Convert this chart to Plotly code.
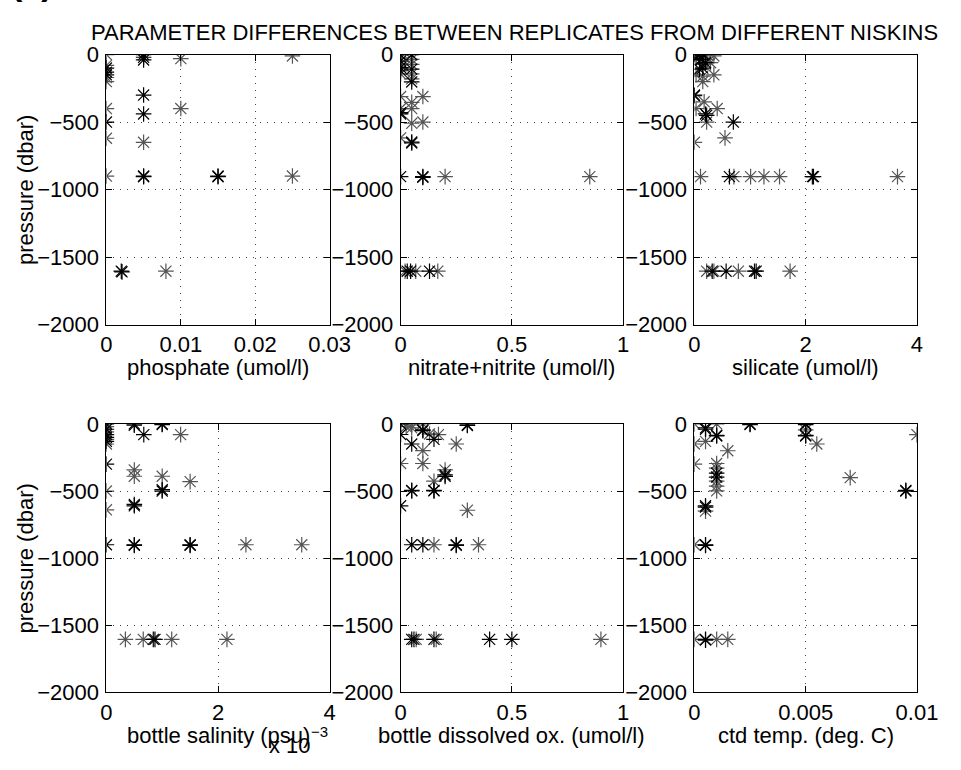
import plotly.graph_objects as go

# ---------------- data (pressure in dbar, differences in units shown) ----------------
# phosphate (umol/l)
phos_dark_x = [0, 0, 0, 0, 0.005, 0.005, 0.005, 0.005, 0.005, 0.005, 0.005, 0.015, 0.015, 0.002, 0.0021]
phos_dark_p = [-100, -130, -150, -500, 0, -20, -40, -300, -440, -900, -905, -900, -905, -1605, -1610]
phos_light_x = [0, 0, 0, 0, 0, 0, 0, 0.01, 0.01, 0.005, 0.025, 0.025, 0.008]
phos_light_p = [0, -80, -170, -200, -400, -620, -900, -30, -400, -650, -10, -900, -1605]

# nitrate+nitrite (umol/l)
nit_dark_x = [0, 0, 0, 0, 0.05, 0.05, 0.05, 0, 0, 0.05, 0.05, 0, 0.1, 0.1, 0.03, 0.045, 0.13]
nit_dark_p = [-1, -48, -96, -120, -1, -108, -203, -430, -440, -648, -655, -904, -904, -910, -1605, -1605, -1605]
nit_light_x = [0, 0, 0, 0.05, 0.05, 0.05, 0.05, 0, 0, 0, 0.05, 0.05, 0.05, 0.1, 0.1, 0.2, 0.85, 0.068, 0.167, 0.02]
nit_light_p = [-25, -72, -143, -36, -72, -143, -180, -311, -400, -617, -354, -400, -509, -311, -500, -904, -904, -1605, -1605, -1605]

# silicate (umol/l)
sil_dark_x = [0, 0.09, 0.17, 0.03, 0.12, 0.2, 0.15, 0.09, 0, 0, 0.2, 0.22, 0.7, 2.12, 2.14, 0.63, 0.32, 1.08, 1.11, 0.57]
sil_dark_p = [0, 0, 0, -30, -36, -60, -100, -108, -300, -305, -440, -450, -500, -904, -904, -904, -1605, -1605, -1605, -1605]
sil_light_x = [0.35, 0.23, 0.15, 0.29, 0.03, 0.15, 0.35, 0.15, 0.03, 0.175, 0.41, 0.22, 0.55, 0, 0.11, 0.71, 1.01, 1.25, 1.53, 3.65, 0.22, 0.35, 0.79, 1.72]
sil_light_p = [-10, -36, -72, -60, -150, -160, -150, -200, -400, -350, -400, -500, -617, -650, -904, -904, -904, -904, -904, -904, -1605, -1605, -1605, -1605]

# bottle salinity (psu)
sal_dark_x = [0, 0, 0, 0, 0, 0, 0.0005, 0.0005, 0.001, 0.001, 0.00067, 0.001, 0.001, 0.0005, 0.0005, 0, 0.0005, 0.0005, 0.0015, 0.0015, 0.00084, 0.00087]
sal_dark_p = [0, -40, -80, -100, -130, -300, 0, -10, 0, -5, -80, -500, -490, -610, -600, -900, -900, -905, -900, -905, -1605, -1605]
sal_light_x = [0, 0, 0, 0, 0, 0, 0.00133, 0.0005, 0.0005, 0.001, 0.0015, 0.0025, 0.0035, 0.00034, 0.00066, 0.00117, 0.00216]
sal_light_p = [-20, -60, -115, -150, -500, -640, -80, -343, -390, -390, -430, -900, -900, -1605, -1605, -1605, -1605]

# bottle dissolved oxygen (umol/l)
oxy_dark_x = [0, 0, 0.1, 0.1, 0.3, 0.3, 0.05, 0.15, 0.2, 0.2, 0.05, 0.05, 0.15, 0.15, 0, 0.05, 0.1, 0.25, 0.25, 0.05, 0.06, 0.15, 0.4, 0.5]
oxy_dark_p = [0, -79, -45, -50, -7, -12, -150, -115, -391, -380, -499, -495, -499, -495, -610, -900, -900, -900, -905, -1605, -1605, -1605, -1605, -1605]
oxy_light_x = [0.025, 0.05, 0.05, 0.1, 0.13, 0.17, 0.1, 0.25, 0, 0.1, 0.2, 0.15, 0.3, 0.15, 0.35, 0.16, 0.9, 0.07]
oxy_light_p = [-20, -7, -30, 0, -75, -80, -199, -150, -295, -295, -343, -427, -643, -900, -900, -1605, -1605, -1605]

# ctd temperature (deg. C)
tmp_dark_x = [0.0005, 0.0005, 0.001, 0.001, 0.0025, 0.0025, 0.005, 0.005, 0.005, 0.005, 0.0095, 0.0095, 0.0005, 0.0005, 0.0005, 0.0005, 0.0005, 0.0005, 0.001, 0.001]
tmp_dark_p = [-30, -40, -90, -85, 0, -5, 0, -5, -85, -90, -500, -495, -610, -620, -900, -905, -1605, -1610, -396, -367]
tmp_light_x = [0, 0, 0, 0.0005, 0.001, 0.0015, 0.005, 0.0055, 0.01, 0.007, 0.001, 0.001, 0.001, 0.001, 0.001, 0.0005, 0, 0, 0.001, 0.0015]
tmp_light_p = [0, -150, -300, -130, 0, -200, -45, -150, -80, -400, -295, -330, -427, -463, -499, -650, -900, -1605, -1605, -1605]

x_titles = ["phosphate (umol/l)", "nitrate+nitrite (umol/l)", "silicate (umol/l)",
            "bottle salinity (psu)", "bottle dissolved ox. (umol/l)", "ctd temp. (deg. C)"]
x_ranges = [[0, 0.03], [0, 1], [0, 4], [0, 0.004], [0, 1], [0, 0.01]]
x_tickvals = [[0, 0.01, 0.02, 0.03], [0, 0.5, 1], [0, 2, 4], [0, 0.002, 0.004], [0, 0.5, 1], [0, 0.005, 0.01]]
x_ticktext = [["0", "0.01", "0.02", "0.03"], ["0", "0.5", "1"], ["0", "2", "4"], ["0", "2", "4"],
              ["0", "0.5", "1"], ["0", "0.005", "0.01"]]
y_tickvals = [0, -500, -1000, -1500, -2000]
y_ticktext = ["0", "\u2212500", "\u22121000", "\u22121500", "\u22122000"]

panels = [(phos_dark_x, phos_dark_p, phos_light_x, phos_light_p),
          (nit_dark_x, nit_dark_p, nit_light_x, nit_light_p),
          (sil_dark_x, sil_dark_p, sil_light_x, sil_light_p),
          (sal_dark_x, sal_dark_p, sal_light_x, sal_light_p),
          (oxy_dark_x, oxy_dark_p, oxy_light_x, oxy_light_p),
          (tmp_dark_x, tmp_dark_p, tmp_light_x, tmp_light_p)]

# ---------------- layout geometry (pixels, page coordinates) ----------------
W, H = 961, 770
col_px = [(103.3, 333.0), (406.0, 635.0), (708.3, 937.3)]
row_px = [(44.0, 323.0), (425.7, 703.3)]
FONT = "Liberation Sans, Arial, Helvetica, sans-serif"


def px(x):
    return x / W


def py(y):
    return 1 - y / H


fig = go.Figure()
layout = dict(width=W, height=H, margin=dict(l=0, r=0, t=0, b=0),
              paper_bgcolor="white", plot_bgcolor="white", showlegend=False,
              font=dict(family=FONT, size=22, color="black"))
annotations = []

for i, (dx, dp, lx, lp) in enumerate(panels):
    r, c = divmod(i, 3)
    n = i + 1
    xa = "x" if n == 1 else f"x{n}"
    ya = "y" if n == 1 else f"y{n}"
    for xs, ps, col in ((lx, lp, "#555555"), (dx, dp, "#000000")):
        fig.add_trace(go.Scatter(x=xs, y=ps, mode="markers", xaxis=xa, yaxis=ya,
                                 marker=dict(symbol="asterisk-open", size=13,
                                             line=dict(color=col, width=1.2), color=col),
                                 hoverinfo="skip"))
    x0, x1 = col_px[c]
    y0, y1 = row_px[r]
    common = dict(showline=True, linecolor="black", linewidth=1, mirror="allticks",
                  ticks="inside", ticklen=6, tickcolor="black", tickwidth=1,
                  showgrid=True, gridcolor="#444444", griddash="1px,6px", gridwidth=1,
                  zeroline=False, tickfont=dict(family=FONT, size=22, color="black"))
    layout["xaxis" if n == 1 else f"xaxis{n}"] = dict(
        domain=[px(x0), px(x1)], range=x_ranges[i], tickvals=x_tickvals[i],
        ticktext=x_ticktext[i], anchor=ya, ticklabelstandoff=0, **common)
    layout["yaxis" if n == 1 else f"yaxis{n}"] = dict(
        domain=[py(y1), py(y0)], range=[-2000, 0], tickvals=y_tickvals,
        ticktext=y_ticktext, anchor=xa, ticklabelstandoff=2, **common)
    # x-axis title
    annotations.append(dict(text=x_titles[i], xref="paper", yref="paper",
                            x=px((x0 + x1) / 2), y=py(y1 + 44),
                            xanchor="center", yanchor="middle", showarrow=False,
                            font=dict(family=FONT, size=22, color="black")))
    if c == 0:
        annotations.append(dict(text="pressure (dbar)", xref="paper", yref="paper",
                                x=px(20), y=py((y0 + y1) / 2), textangle=-90,
                                xanchor="center", yanchor="middle", showarrow=False,
                                font=dict(family=FONT, size=22, color="black")))

# title
annotations.append(dict(text="PARAMETER DIFFERENCES BETWEEN REPLICATES FROM DIFFERENT NISKINS",
                        xref="paper", yref="paper", x=px(523.5), y=py(21),
                        xanchor="center", yanchor="middle", showarrow=False,
                        font=dict(family=FONT, size=22, color="black")))
# panel tag (mostly cut off at the top edge, as in the original)
annotations.append(dict(text="<b>(a)</b>", xref="paper", yref="paper", x=px(3), y=py(-8),
                        xanchor="left", yanchor="bottom", showarrow=False,
                        font=dict(family=FONT, size=34, color="black")))
# exponent label for salinity axis
annotations.append(dict(text="x 10", xref="paper", yref="paper", x=px(292), y=py(758),
                        xanchor="center", yanchor="middle", showarrow=False,
                        font=dict(family=FONT, size=22, color="black")))
annotations.append(dict(text="\u22123", xref="paper", yref="paper", x=px(323), y=py(744),
                        xanchor="center", yanchor="middle", showarrow=False,
                        font=dict(family=FONT, size=15, color="black")))

layout["annotations"] = annotations
fig.update_layout(**layout)
fig.write_html("out.html")
